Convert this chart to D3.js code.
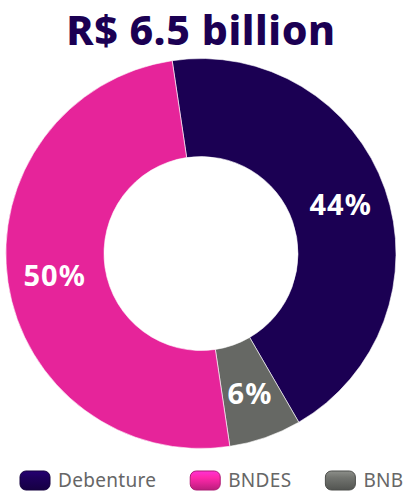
<!DOCTYPE html>
<html>
<head>
<meta charset="utf-8">
<script src="https://cdn.jsdelivr.net/npm/d3@7"></script>
<style>
  html, body { margin: 0; padding: 0; background: #fff; }
  svg { display: block; }
</style>
</head>
<body>
<svg id="chart" width="411" height="493"></svg>
<script>
// Funding mix, share of total (%)
const categories = ["Debenture", "BNB", "BNDES"];
const shares = [44, 6, 50];
const colors = ["#1b0053", "#666864", "#e6249a"];
const legendOrder = ["Debenture", "BNDES", "BNB"];
const title = "R$ 6.5 billion";

const W = 411, H = 493;
const cx = 201, cy = 253.5;
const outerR = 195, innerR = 97;
const startDeg = -8.5;

const svg = d3.select("#chart");
const fontFam = "'Noto Sans', 'Open Sans', sans-serif";

svg.append("text")
  .attr("x", cx)
  .attr("y", 45)
  .attr("text-anchor", "middle")
  .attr("font-family", fontFam)
  .attr("font-weight", 800)
  .attr("font-size", 41)
  .attr("letter-spacing", 0.6)
  .attr("fill", "#1b0053")
  .text(title);

const color = d3.scaleOrdinal().domain(categories).range(colors);
const data = categories.map((c, i) => ({ name: c, value: shares[i] }));

const start = startDeg * Math.PI / 180;
const pie = d3.pie()
  .value(d => d.value)
  .sort(null)
  .startAngle(start)
  .endAngle(start + 2 * Math.PI);

const arc = d3.arc().innerRadius(innerR).outerRadius(outerR);
const midR = (outerR + innerR) / 2 + 2;
const labelArc = d3.arc().innerRadius(midR).outerRadius(midR);

const g = svg.append("g").attr("transform", `translate(${cx},${cy})`);
const arcs = pie(data);

g.selectAll("path.slice")
  .data(arcs)
  .join("path")
  .attr("class", "slice")
  .attr("d", arc)
  .attr("fill", d => color(d.data.name))
  .attr("stroke", "#ffffff")
  .attr("stroke-width", 0.6);

g.selectAll("text.pct")
  .data(arcs)
  .join("text")
  .attr("class", "pct")
  .attr("transform", d => `translate(${labelArc.centroid(d)})`)
  .attr("text-anchor", "middle")
  .attr("dy", "0.36em")
  .attr("font-family", fontFam)
  .attr("font-weight", 700)
  .attr("font-size", 29)
  .attr("letter-spacing", 1)
  .attr("fill", "#ffffff")
  .text(d => d.data.value + "%");

// Legend with glossy rounded swatches
const defs = svg.append("defs");
legendOrder.forEach(name => {
  const base = d3.color(color(name));
  const grad = defs.append("linearGradient")
    .attr("id", "grad-" + name)
    .attr("x1", 0).attr("y1", 0).attr("x2", 0).attr("y2", 1);
  grad.append("stop").attr("offset", "0%").attr("stop-color", base.brighter(0.9));
  grad.append("stop").attr("offset", "35%").attr("stop-color", base.brighter(0.3));
  grad.append("stop").attr("offset", "60%").attr("stop-color", base);
  grad.append("stop").attr("offset", "100%").attr("stop-color", base.darker(0.6));
});

const legend = svg.append("g").attr("class", "legend");
let lx = 20;
const swW = 30, swH = 19, swY = 471, gap = 34;
legendOrder.forEach(name => {
  const item = legend.append("g");
  item.append("rect")
    .attr("x", lx).attr("y", swY)
    .attr("width", swW).attr("height", swH)
    .attr("rx", 6).attr("ry", 6)
    .attr("fill", `url(#grad-${name})`)
    .attr("stroke", d3.color(color(name)).darker(0.8))
    .attr("stroke-width", 1);
  const t = item.append("text")
    .attr("x", lx + swW + 8)
    .attr("y", swY + 16)
    .attr("font-family", fontFam)
    .attr("font-size", 19)
    .attr("letter-spacing", 0.3)
    .attr("fill", "#666666")
    .text(name);
  lx += swW + 8 + t.node().getComputedTextLength() + gap;
});
</script>
</body>
</html>
